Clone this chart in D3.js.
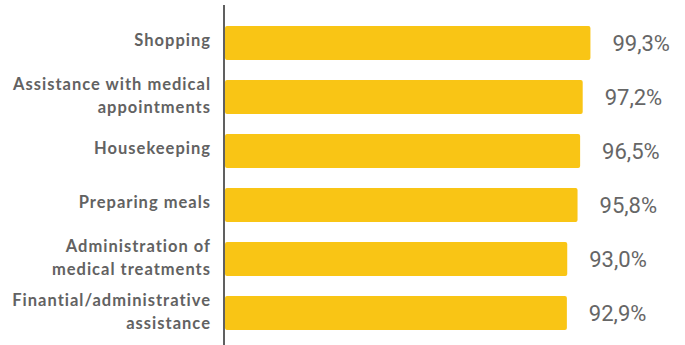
<!DOCTYPE html>
<html>
<head>
<meta charset="utf-8">
<script src="https://cdn.jsdelivr.net/npm/d3@7"></script>
<style>
  html, body { margin: 0; padding: 0; background: #ffffff; }
  svg { display: block; }
</style>
</head>
<body>
<svg id="chart" width="685" height="345"></svg>
<script>
// Share of respondents per type of assistance (%)
const categories = [
  ["Shopping"],
  ["Assistance with medical", "appointments"],
  ["Housekeeping"],
  ["Preparing meals"],
  ["Administration of", "medical treatments"],
  ["Finantial/administrative", "assistance"]
];
const values = [99.3, 97.2, 96.5, 95.8, 93.0, 92.9];
const valueLabels = ["99,3%", "97,2%", "96,5%", "95,8%", "93,0%", "92,9%"];

const svg = d3.select("#chart");
const axisX = 224;

const x = d3.scaleLinear().domain([0, 100]).range([axisX + 1, 593]);
// row centres
const y = d3.scalePoint()
  .domain(d3.range(values.length))
  .range([16, 340])
  .padding(0.5);

const bh = 34;

// bars
svg.append("g").selectAll("rect")
  .data(values)
  .join("rect")
  .attr("x", x(0))
  .attr("y", (d, i) => y(i) - bh / 2)
  .attr("width", d => x(d) - x(0))
  .attr("height", bh)
  .attr("rx", 2)
  .attr("fill", "#F9C515");

// vertical axis line
svg.append("line")
  .attr("x1", axisX).attr("x2", axisX)
  .attr("y1", 5).attr("y2", 345)
  .attr("stroke", "#606060")
  .attr("stroke-width", 2);

// category labels
const labels = svg.append("g")
  .attr("font-family", "Lato, 'Open Sans', sans-serif")
  .attr("font-weight", "bold")
  .attr("font-size", 16.5)
  .attr("letter-spacing", 1)
  .attr("fill", "#626262")
  .attr("text-anchor", "end");

categories.forEach((lines, i) => {
  const c = y(i);
  const t = labels.append("text");
  if (lines.length === 1) {
    t.append("tspan").attr("x", 211).attr("y", c + 3).text(lines[0]);
  } else {
    t.append("tspan").attr("x", 211).attr("y", c - 7).text(lines[0]);
    t.append("tspan").attr("x", 211).attr("y", c + 16).text(lines[1]);
  }
});

// value labels
svg.append("g")
  .attr("font-family", "Roboto, sans-serif")
  .attr("font-size", 22)
  .attr("fill", "#666666")
  .selectAll("text")
  .data(values)
  .join("text")
  .attr("x", d => x(d) + 22)
  .attr("y", (d, i) => y(i) + 8)
  .text((d, i) => valueLabels[i]);
</script>
</body>
</html>
